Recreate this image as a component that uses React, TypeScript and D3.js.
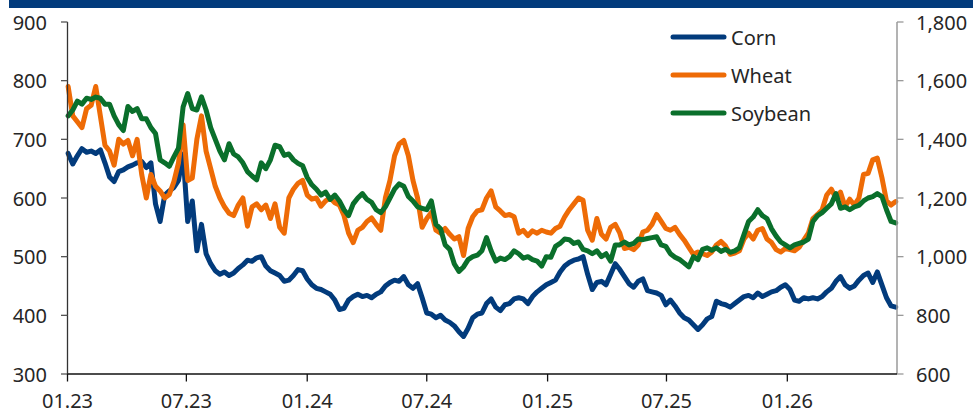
import React from 'react';
import * as d3 from 'd3';

// Weekly observations, first one on this date, one week apart
const firstWeek = '2023-01-02';

// Corn (US cents/bu, left axis)
const corn = [
  676, 658, 672, 684, 678, 680, 676, 682, 660, 636,
  628, 645, 648, 653, 656, 660, 662, 652, 660, 590,
  560, 605, 612, 618, 630, 675, 560, 595, 510, 555,
  505, 488, 476, 470, 474, 468, 472, 480, 486, 494,
  492, 498, 500, 484, 476, 472, 468, 458, 460, 468,
  478, 476, 462, 452, 446, 444, 440, 436, 426, 410,
  412, 426, 432, 436, 432, 434, 430, 436, 440, 450,
  456, 460, 458, 466, 452, 446, 454, 430, 404, 402,
  396, 400, 392, 388, 382, 372, 364, 378, 396, 402,
  404, 420, 428, 414, 408, 418, 420, 428, 430, 428,
  420, 432, 440, 446, 452, 456, 460, 474, 484, 490,
  494, 496, 500, 470, 444, 456, 458, 452, 470, 488,
  478, 466, 454, 448, 458, 462, 442, 440, 438, 434,
  418, 426, 416, 404, 396, 392, 384, 376, 384, 394,
  398, 424, 420, 418, 414, 420, 426, 432, 434, 430,
  438, 432, 436, 440, 442, 448, 452, 444, 426, 424,
  430, 428, 430, 428, 432, 440, 446, 458, 466, 452,
  446, 450, 460, 468, 472, 456, 474, 452, 430, 416,
  414,
];

// Wheat (US cents/bu, left axis)
const wheat = [
  790, 740, 730, 720, 752, 758, 790, 740, 690, 680,
  656, 700, 692, 698, 672, 700, 640, 600, 640, 620,
  612, 600, 606, 628, 660, 725, 630, 634, 700, 740,
  680, 650, 620, 600, 585, 574, 570, 588, 600, 552,
  585, 590, 580, 588, 565, 590, 550, 540, 600, 615,
  625, 630, 605, 598, 600, 586, 595, 600, 592, 588,
  570, 540, 524, 545, 550, 560, 566, 555, 545, 600,
  630, 672, 692, 698, 672, 630, 600, 550, 565, 575,
  545, 540, 548, 538, 530, 534, 502, 548, 568, 578,
  580, 600, 612, 585, 578, 570, 572, 568, 540, 545,
  536, 544, 540, 545, 542, 540, 548, 552, 568, 580,
  590, 600, 596, 545, 528, 565, 538, 530, 550, 555,
  540, 514, 516, 512, 520, 542, 545, 555, 572, 560,
  548, 545, 550, 538, 528, 516, 504, 508, 505, 502,
  508, 520, 526, 518, 504, 506, 510, 530, 540, 530,
  545, 548, 530, 524, 512, 508, 514, 512, 510, 516,
  528, 540, 565, 572, 580, 605, 615, 600, 610, 585,
  598, 588, 600, 640, 642, 665, 668, 635, 595, 588,
  594,
];

// Soybean (US cents/bu, right axis)
const soybean = [
  1480, 1500, 1530, 1520, 1540, 1536, 1544, 1540, 1520, 1520,
  1480, 1450, 1430, 1512, 1495, 1505, 1470, 1470, 1440, 1420,
  1330, 1320, 1308, 1340, 1370, 1510, 1556, 1505, 1500, 1545,
  1500, 1440, 1400, 1360, 1330, 1385, 1350, 1340, 1320, 1290,
  1275, 1262, 1320, 1300, 1330, 1380, 1375, 1345, 1350, 1330,
  1318, 1310, 1270, 1245, 1230, 1210, 1220, 1195, 1210, 1190,
  1160, 1140, 1180, 1200, 1215, 1195, 1185, 1160, 1150, 1170,
  1200, 1230, 1248, 1240, 1205, 1190, 1170, 1165, 1160, 1190,
  1110, 1095, 1040, 1025, 975, 950, 965, 990, 1000, 1005,
  1020, 1065, 1020, 985, 995, 990, 1000, 1020, 1010, 995,
  1000, 990, 985, 968, 1000, 998, 1035, 1045, 1060, 1058,
  1045, 1050, 1025, 1020, 1010, 1020, 1000, 1010, 985, 1040,
  1040, 1050, 1040, 1045, 1060, 1058, 1062, 1065, 1068, 1040,
  1035, 1010, 998, 990, 978, 965, 1000, 990, 1025, 1030,
  1022, 1030, 1018, 1025, 1015, 1020, 1030, 1075, 1120, 1135,
  1160, 1140, 1130, 1095, 1070, 1050, 1040, 1030, 1040, 1045,
  1050, 1060, 1120, 1140, 1150, 1165, 1180, 1215, 1165, 1170,
  1160, 1170, 1175, 1190, 1200, 1205, 1215, 1205, 1160, 1120,
  1115,
];

const leftTicks = [300, 400, 500, 600, 700, 800, 900];
const rightTicks = [600, 800, 1000, 1200, 1400, 1600, 1800];
const seriesNames = ['Corn', 'Wheat', 'Soybean'];
const seriesColors = ['#023b7c', '#ee6b06', '#0a6f2b'];
const axisStart = '2023-01-01';
const axisEnd = '2026-06-17';

export default function App() {
  const W = 973;
  const H = 412;
  const left = 67.5;
  const right = 897;
  const top = 22;
  const bottom = 374;
  const font = "'Noto Sans', 'Liberation Sans', Arial, sans-serif";
  const textColor = '#262626';

  const parse = d3.timeParse('%Y-%m-%d');
  const start = parse(firstWeek) as Date;
  const dates = corn.map((_, i) => d3.timeDay.offset(start, 7 * i));

  const x = d3
    .scaleTime()
    .domain([parse(axisStart) as Date, parse(axisEnd) as Date])
    .range([left, right]);
  const yL = d3.scaleLinear().domain([300, 900]).range([bottom, top]);
  const yR = d3.scaleLinear().domain([600, 1800]).range([bottom, top]);

  const xTicks = (d3.timeMonth.every(6) as d3.CountableTimeInterval).range(
    parse(axisStart) as Date,
    parse('2026-02-01') as Date
  );
  const fmt = d3.timeFormat('%m.%y');

  const lineL = d3
    .line<number>()
    .x((_, i) => x(dates[i]))
    .y((v) => yL(v));
  const lineR = d3
    .line<number>()
    .x((_, i) => x(dates[i]))
    .y((v) => yR(v));

  const series = [
    { name: seriesNames[0], color: seriesColors[0], d: lineL(corn) },
    { name: seriesNames[1], color: seriesColors[1], d: lineL(wheat) },
    { name: seriesNames[2], color: seriesColors[2], d: lineR(soybean) },
  ];

  const fmtR = d3.format(',');

  return (
    <svg
      width={W}
      height={H}
      style={{ position: 'absolute', left: 0, top: 0, display: 'block', background: '#fff' }}
    >
      <rect x={0} y={0} width={W} height={H} fill="#fff" />
      {/* top banner */}
      <rect x={9} y={0} width={W - 9} height={8} fill="#023b7c" />

      {/* series */}
      {series.map((s) => (
        <path
          key={s.name}
          d={s.d || ''}
          fill="none"
          stroke={s.color}
          strokeWidth={5}
          strokeLinejoin="round"
          strokeLinecap="round"
        />
      ))}

      {/* left axis */}
      <line x1={left} x2={left} y1={top} y2={bottom} stroke="#333" strokeWidth={1.3} />
      {leftTicks.map((t) => (
        <g key={'l' + t}>
          <line x1={left - 6.5} x2={left} y1={yL(t)} y2={yL(t)} stroke="#555" strokeWidth={1.3} />
          <text
            x={47}
            y={yL(t)}
            textAnchor="end"
            dominantBaseline="central"
            fontFamily={font}
            fontSize={20}
            fill={textColor}
          >
            {t}
          </text>
        </g>
      ))}

      {/* right axis */}
      <line x1={right} x2={right} y1={top} y2={bottom} stroke="#9a9a9a" strokeWidth={1.5} />
      {rightTicks.map((t) => (
        <g key={'r' + t}>
          <line x1={right} x2={right + 6.5} y1={yR(t)} y2={yR(t)} stroke="#9a9a9a" strokeWidth={1.3} />
          <text
            x={916}
            y={yR(t)}
            textAnchor="start"
            dominantBaseline="central"
            fontFamily={font}
            fontSize={20}
            fill={textColor}
          >
            {fmtR(t)}
          </text>
        </g>
      ))}

      {/* bottom axis */}
      <line x1={left} x2={right} y1={bottom} y2={bottom} stroke="#111" strokeWidth={1.3} />
      {xTicks.map((t) => (
        <g key={'x' + t.getTime()}>
          <line x1={x(t)} x2={x(t)} y1={bottom} y2={bottom + 7.5} stroke="#111" strokeWidth={1.3} />
          <text
            x={x(t)}
            y={400}
            textAnchor="middle"
            dominantBaseline="central"
            fontFamily={font}
            fontSize={20}
            fill={textColor}
          >
            {fmt(t)}
          </text>
        </g>
      ))}

      {/* legend */}
      {series.map((s, i) => (
        <g key={'lg' + s.name}>
          <line
            x1={673}
            x2={724}
            y1={37 + i * 38}
            y2={37 + i * 38}
            stroke={s.color}
            strokeWidth={5}
            strokeLinecap="round"
          />
          <text
            x={731}
            y={37 + i * 38}
            dominantBaseline="central"
            fontFamily={font}
            fontSize={20}
            fill={textColor}
          >
            {s.name}
          </text>
        </g>
      ))}
    </svg>
  );
}
